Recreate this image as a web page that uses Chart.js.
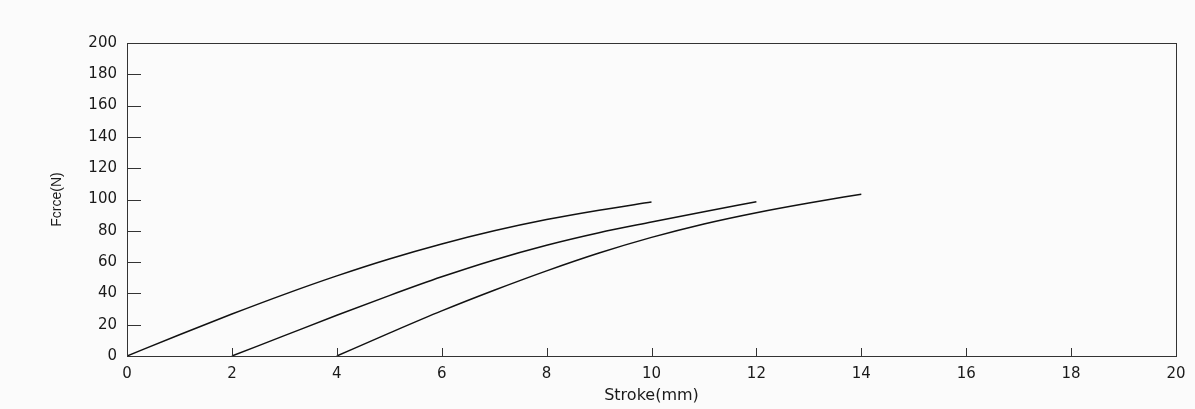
<!DOCTYPE html>
<html>
<head>
<meta charset="utf-8">
<script src="https://cdn.jsdelivr.net/npm/chart.js@4.4.1/dist/chart.umd.min.js"></script>
<style>
  html, body { margin: 0; padding: 0; background: #fbfbfb; }
  canvas { display: block; }
</style>
</head>
<body>
<canvas id="forceChart" width="1195" height="409"></canvas>
<script>
// curves
const stroke1 = [0, 1, 2, 3, 4, 5, 6, 7, 8, 9, 10];
const force1 = [0, 13.6, 26.8, 39.4, 51.2, 62, 71.6, 80, 87.2, 93.2, 98.4];

const stroke2 = [2, 3, 4, 5, 6, 7, 8, 9, 10, 11, 12];
const force2 = [0, 13, 26, 38.6, 50.6, 61.4, 70.8, 78.8, 85.6, 92.2, 98.6];

const stroke3 = [4, 5, 6, 7, 8, 9, 10, 11, 12, 13, 14];
const force3 = [0, 14.6, 28.8, 42, 54.4, 65.8, 75.8, 84.4, 91.6, 97.8, 103.4];

const xTicks = [0, 2, 4, 6, 8, 10, 12, 14, 16, 18, 20];
const yTicks = [0, 20, 40, 60, 80, 100, 120, 140, 160, 180, 200];

function toPoints(xs, ys) {
  return xs.map((x, i) => ({ x: x, y: ys[i] }));
}

function curve(xs, ys) {
  return {
    data: toPoints(xs, ys),
    borderColor: "#111",
    borderWidth: 1.5,
    pointRadius: 0,
    fill: false,
    cubicInterpolationMode: "monotone"
  };
}

// box round the plot and the short inward ticks
const frame = {
  id: "frame",
  afterDraw(chart) {
    const { ctx, chartArea: a, scales } = chart;
    ctx.save();
    ctx.strokeStyle = "#333";
    ctx.lineWidth = 1;
    ctx.strokeRect(a.left + 0.5, a.top + 0.5, a.right - a.left, a.bottom - a.top);
    ctx.beginPath();
    xTicks.forEach(v => {
      const px = Math.round(scales.x.getPixelForValue(v)) + 0.5;
      ctx.moveTo(px, a.bottom);
      ctx.lineTo(px, a.bottom - 8);
    });
    yTicks.forEach(v => {
      const py = Math.round(scales.y.getPixelForValue(v)) + 0.5;
      ctx.moveTo(a.left, py);
      ctx.lineTo(a.left + 14, py);
    });
    ctx.stroke();
    ctx.restore();
  }
};

const ctx = document.getElementById("forceChart").getContext("2d");
new Chart(ctx, {
  type: "line",
  data: {
    datasets: [curve(stroke1, force1), curve(stroke2, force2), curve(stroke3, force3)]
  },
  options: {
    responsive: false,
    animation: false,
    devicePixelRatio: 1,
    layout: { padding: { left: 0, top: 43, right: 19, bottom: 0 } },
    plugins: { legend: { display: false }, tooltip: { enabled: false } },
    scales: {
      x: {
        type: "linear",
        min: 0,
        max: 20,
        afterFit: s => { s.height = 53; },
        afterBuildTicks: s => { s.ticks = xTicks.map(v => ({ value: v })); },
        grid: { display: false, drawTicks: false },
        border: { display: false },
        ticks: { padding: 9, color: "#1a1a1a", font: { family: "DejaVu Sans", size: 15 } },
        title: {
          display: true,
          text: "Stroke(mm)",
          color: "#1a1a1a",
          font: { family: "DejaVu Sans", size: 16 },
          padding: { top: 0, bottom: 4 }
        }
      },
      y: {
        min: 0,
        max: 200,
        afterFit: s => { s.width = 127; },
        afterBuildTicks: s => { s.ticks = yTicks.map(v => ({ value: v })); },
        grid: { display: false, drawTicks: false },
        border: { display: false },
        ticks: { padding: 10, color: "#1a1a1a", font: { family: "DejaVu Sans", size: 15 } },
        title: {
          display: true,
          text: "Fcrce(N)",
          color: "#1a1a1a",
          font: { family: "Liberation Sans", size: 14 },
          padding: { top: 49, bottom: 0 }
        }
      }
    }
  },
  plugins: [frame]
});
</script>
</body>
</html>
